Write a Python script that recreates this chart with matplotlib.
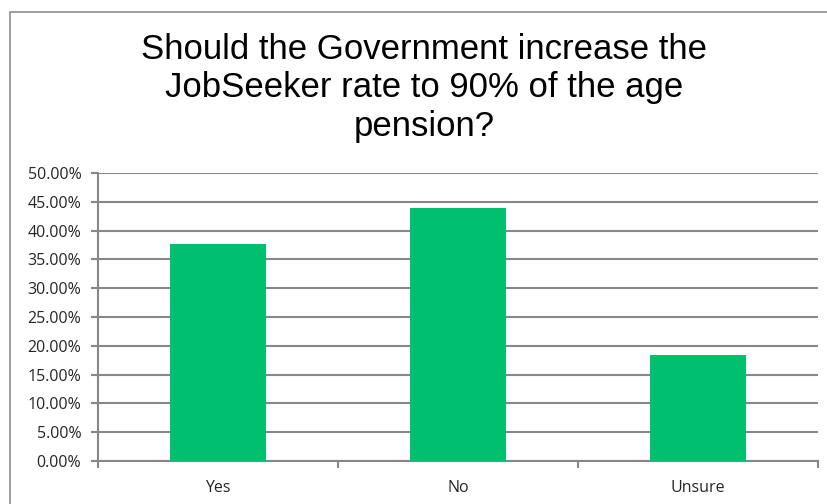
import matplotlib.pyplot as plt
from matplotlib.patches import Rectangle
from matplotlib.ticker import FuncFormatter, FixedLocator

# data
categories = ['Yes', 'No', 'Unsure']
shares = [0.376, 0.440, 0.184]
y_ticks = [0.0, 0.05, 0.10, 0.15, 0.20, 0.25, 0.30, 0.35, 0.40, 0.45, 0.50]

title = 'Should the Government increase the\nJobSeeker rate to 90% of the age\npension?'

fig = plt.figure(figsize=(8.27, 5.04), dpi=100)
fig.patch.set_facecolor('white')

# outer chart border (right/bottom edges run off the picture)
fig.patches.append(Rectangle((10 / 827, -0.05), 1.0, 1 - 12 / 504 + 0.05,
                             transform=fig.transFigure, fill=False,
                             edgecolor='#8c8c8c', linewidth=1.2))

ax = fig.add_axes([98 / 827, 1 - 461 / 504, 720 / 827, (461 - 173) / 504])

x = list(range(len(categories)))
ax.bar(x, shares, width=0.4, color='#00bf6f', zorder=3)

ax.set_xlim(-0.5, len(categories) - 0.5)
ax.set_ylim(0, 0.5)
ax.set_yticks(y_ticks)
ax.yaxis.set_major_formatter(FuncFormatter(lambda v, p: f'{v * 100:.2f}%'))
ax.grid(axis='y', color='#878787', linewidth=1.5, zorder=0)

# category labels centred, tick marks at category boundaries
ax.set_xticks(x)
ax.set_xticklabels(categories)
ax.tick_params(axis='x', length=0, pad=14)
ax.xaxis.set_minor_locator(FixedLocator([-0.5, 0.5, 1.5, 2.5]))
ax.tick_params(axis='x', which='minor', length=5, color='#878787', width=1.5)
ax.tick_params(axis='y', length=5, color='#878787', width=1.5, pad=7)

for lbl in ax.get_xticklabels() + ax.get_yticklabels():
    lbl.set_fontfamily('Open Sans')
    lbl.set_fontsize(11.5)
    lbl.set_color('#262626')

for side in ['top', 'right']:
    ax.spines[side].set_visible(False)
for side in ['left', 'bottom']:
    ax.spines[side].set_color('#878787')
    ax.spines[side].set_linewidth(1.5)

fig.text(424 / 827, 1 - 88 / 504, title, ha='center', va='center',
         family='Liberation Sans', fontsize=25, linespacing=1.2)

fig.savefig('out.png', dpi=100)
